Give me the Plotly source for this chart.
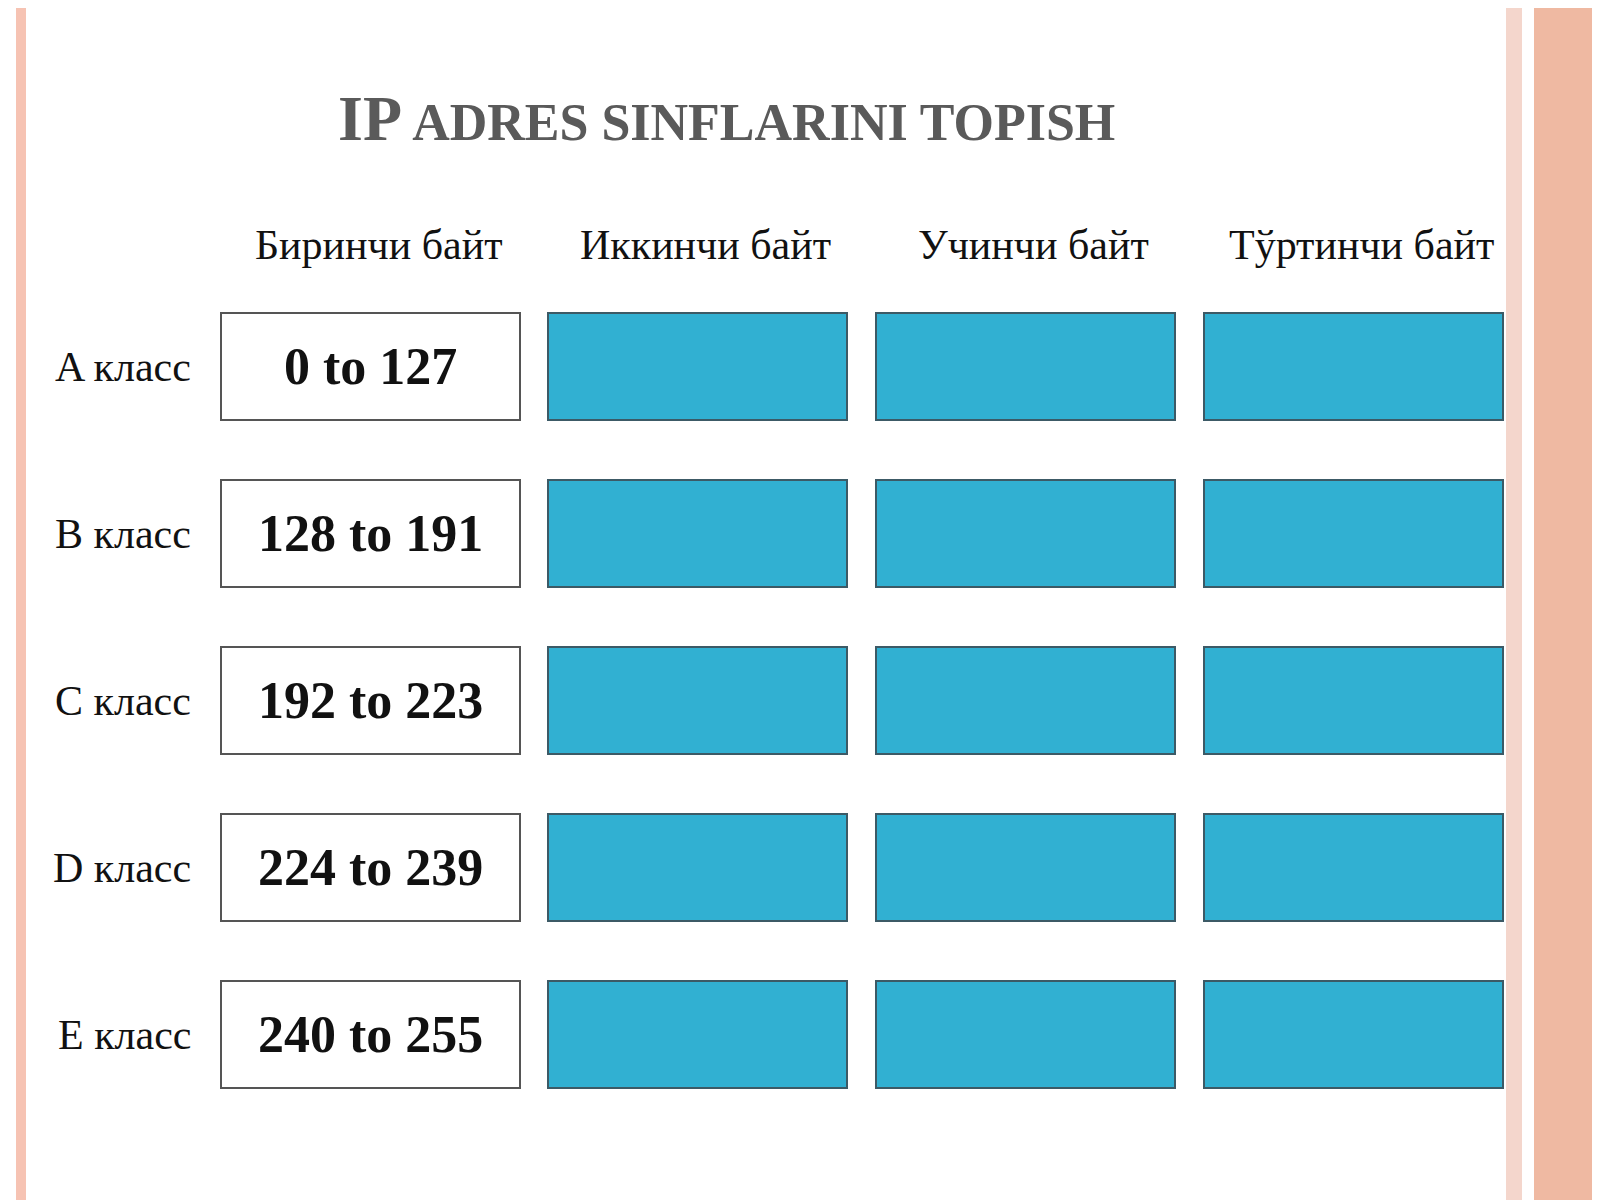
import plotly.graph_objects as go

title = "IP ADRES SINFLARINI TOPISH"
columns = ["Биринчи байт", "Иккинчи байт", "Учинчи байт", "Тўртинчи байт"]
rows = ["A класс", "B класс", "C класс", "D класс", "E класс"]
first_byte = ["0 to 127", "128 to 191", "192 to 223", "224 to 239", "240 to 255"]

# cell geometry in page pixels
col_left = [213, 540, 868, 1196]
col_w = 299
row_top = [305, 472, 639, 806, 973]
row_h = 107

fig = go.Figure()
fig.add_trace(go.Scatter(x=[0, 1600], y=[0, 1200], mode="markers",
                         marker=dict(opacity=0), hoverinfo="skip", showlegend=False))

shapes = []
annotations = []
# decorative borders
shapes.append(dict(type="rect", x0=8, x1=18, y0=0, y1=1200, fillcolor="#f6c3b3", line_width=0, layer="below"))
shapes.append(dict(type="rect", x0=1498, x1=1514, y0=0, y1=1200, fillcolor="#f4d6cc", line_width=0, layer="below"))
shapes.append(dict(type="rect", x0=1526, x1=1600, y0=0, y1=1200, fillcolor="#efb9a2", line_width=0, layer="below"))

for r, rname in enumerate(rows):
    y0 = row_top[r]
    y1 = y0 + row_h
    annotations.append(dict(x=185, y=(y0 + y1) / 2, text=rname, showarrow=False,
                            xanchor="right", font=dict(family="Liberation Serif", size=42, color="#111")))
    for c in range(len(columns)):
        x0 = col_left[c]
        x1 = x0 + col_w
        if c == 0:
            shapes.append(dict(type="rect", x0=x0, x1=x1, y0=y0, y1=y1, fillcolor="white",
                               line=dict(color="#555", width=2)))
            annotations.append(dict(x=(x0 + x1) / 2, y=(y0 + y1) / 2, text="<b>" + first_byte[r] + "</b>",
                                    showarrow=False,
                                    font=dict(family="Liberation Serif", size=52, color="#111")))
        else:
            shapes.append(dict(type="rect", x0=x0, x1=x1, y0=y0, y1=y1, fillcolor="#31b0d2",
                               line=dict(color="#3c5a66", width=2)))

for c, cname in enumerate(columns):
    annotations.append(dict(x=col_left[c] + col_w / 2 + 8, y=237, text=cname, showarrow=False,
                            font=dict(family="Liberation Serif", size=42, color="#111")))

annotations.append(dict(x=718, y=110, showarrow=False,
                        text="<b><span style='font-size:64px'>IP</span> ADRES SINFLARINI TOPISH</b>",
                        font=dict(family="Liberation Serif", size=52, color="#5a5a5a")))

fig.update_layout(
    width=1600, height=1200,
    margin=dict(l=0, r=0, t=0, b=0),
    plot_bgcolor="white", paper_bgcolor="white",
    xaxis=dict(range=[0, 1600], visible=False, fixedrange=True),
    yaxis=dict(range=[1200, 0], visible=False, fixedrange=True),
    shapes=shapes, annotations=annotations,
)
fig.write_html("out.html")
